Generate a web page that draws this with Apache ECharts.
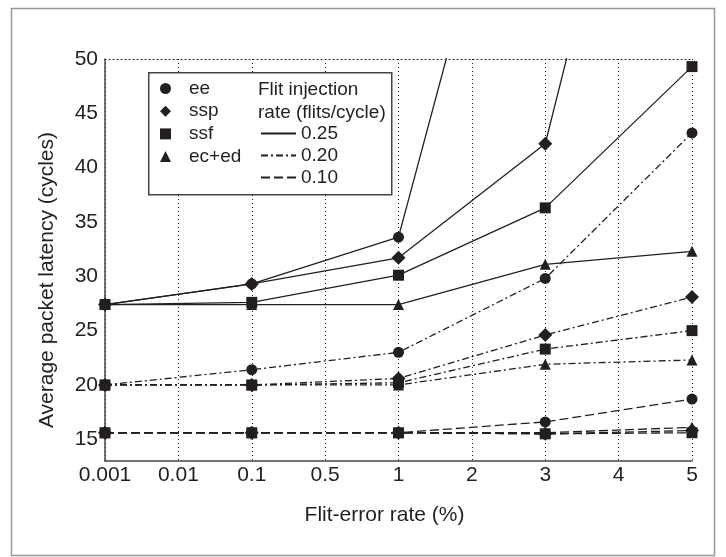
<!DOCTYPE html>
<html>
<head>
<meta charset="utf-8">
<script src="https://cdn.jsdelivr.net/npm/echarts@6/dist/echarts.min.js"></script>
<style>
  html, body { margin: 0; padding: 0; background: #fff; }
  #chart { width: 726px; height: 557px; }
</style>
</head>
<body>
<div id="chart"></div>
<script>
const errRates = ['0.001', '0.01', '0.1', '0.5', '1', '2', '3', '4', '5'];
// rates that were actually simulated
const measuredAt = ['0.001', '0.1', '1', '3', '5'];

// injection rate 0.25 (ee and ssp run off the top of the plot)
const ee25 = [27.4, 29.3, 33.6, 84];
const ssp25 = [27.4, 29.3, 31.7, 42.2, 96];
const ssf25 = [27.4, 27.6, 30.1, 36.3, 49.3];
const ec25 = [27.4, 27.4, 27.4, 31.1, 32.3];

// injection rate 0.20
const ee20 = [20.0, 21.4, 23.0, 29.8, 43.2];
const ssp20 = [20.0, 20.0, 20.6, 24.6, 28.1];
const ssf20 = [20.0, 20.0, 20.2, 23.3, 25.0];
const ec20 = [20.0, 20.0, 20.0, 21.9, 22.3];

// injection rate 0.10
const ee10 = [15.6, 15.6, 15.6, 16.6, 18.7];
const ssp10 = [15.6, 15.6, 15.6, 15.5, 15.8];
const ssf10 = [15.6, 15.6, 15.6, 15.5, 15.6];
const ec10 = [15.6, 15.6, 15.6, 15.6, 16.1];

const schemes = ['ee', 'ssp', 'ssf', 'ec+ed'];
const injRates = ['0.25', '0.20', '0.10'];
const yTicks = [15, 20, 25, 30, 35, 40, 45, 50];

const ink = '#231f20';
const font = '"Liberation Sans", Arial, Helvetica, sans-serif';
const dashes = { '0.25': 'solid', '0.20': [7, 3, 2, 3], '0.10': [9, 4] };
const marks = {
  'ee': ['circle', 11],
  'ssp': ['diamond', 14],
  'ssf': ['rect', 11],
  'ec+ed': ['triangle', 11]
};

const chart = echarts.init(document.getElementById('chart'));

function mk(scheme, rate, vals) {
  return {
    name: scheme + ' ' + rate,
    type: 'line',
    data: vals.map((v, i) => [measuredAt[i], v]),
    symbol: marks[scheme][0],
    symbolSize: marks[scheme][1],
    color: ink,
    lineStyle: { color: ink, width: 1.3, type: dashes[rate] },
    itemStyle: { color: ink },
    animation: false
  };
}

let series = [
  mk('ee', '0.25', ee25), mk('ssp', '0.25', ssp25), mk('ssf', '0.25', ssf25), mk('ec+ed', '0.25', ec25),
  mk('ee', '0.20', ee20), mk('ssp', '0.20', ssp20), mk('ssf', '0.20', ssf20), mk('ec+ed', '0.20', ec20),
  mk('ee', '0.10', ee10), mk('ssp', '0.10', ssp10), mk('ssf', '0.10', ssf10), mk('ec+ed', '0.10', ec10)
];

// empty series only there to feed the two legends
schemes.forEach(s => series.push({
  name: s, type: 'line', data: [], symbol: marks[s][0], color: ink,
  lineStyle: { width: 0 }
}));
injRates.forEach(r => series.push({
  name: r, type: 'line', data: [], symbol: 'none', color: ink,
  lineStyle: { color: ink, width: 1.3, type: dashes[r] }
}));

let option = {
  backgroundColor: '#fff',
  animation: false,
  textStyle: { fontFamily: font },
  grid: { left: 105, right: 34, top: 59, bottom: 96 },
  legend: [
    {
      data: schemes.map(s => ({ name: s, icon: marks[s][0] })),
      orient: 'vertical',
      left: 155, top: 74,
      itemWidth: 11, itemHeight: 11, itemGap: 3.7,
      selectedMode: false,
      textStyle: { fontSize: 19, color: ink, fontFamily: font, padding: [0, 0, 0, 13] }
    },
    {
      data: injRates,
      orient: 'vertical',
      left: 255, top: 119,
      itemWidth: 35, itemHeight: 14, itemGap: 3,
      selectedMode: false,
      itemStyle: { opacity: 0 },
      textStyle: { fontSize: 19, color: ink, fontFamily: font }
    }
  ],
  graphic: [
    {
      type: 'rect', left: 9, top: 6, z: -1, silent: true,
      shape: { width: 703, height: 547 },
      style: { fill: 'none', stroke: '#999', lineWidth: 1.5 }
    },
    {
      type: 'rect', left: 148, top: 72, z: 3, silent: true,
      shape: { width: 243, height: 122 },
      style: { fill: '#fff', stroke: '#444', lineWidth: 1.5 }
    },
    {
      type: 'text', left: 258, top: 78, z: 4, silent: true,
      style: {
        text: 'Flit injection\nrate (flits/cycle)', fill: ink,
        font: '19px ' + font, lineHeight: 23
      }
    }
  ],
  xAxis: [
    {
      type: 'category',
      data: errRates,
      boundaryGap: false,
      name: 'Flit-error rate (%)',
      nameLocation: 'middle',
      nameGap: 44,
      nameTextStyle: { fontSize: 21, color: ink, padding: [0, 28, 0, 0] },
      axisLine: { lineStyle: { color: '#444', width: 1.5 } },
      axisTick: { show: false },
      axisLabel: { fontSize: 21, color: ink, margin: 4 },
      splitLine: { show: true, lineStyle: { color: ink, width: 1, type: [1, 3] } }
    },
    {
      type: 'category',
      data: errRates,
      boundaryGap: false,
      position: 'top',
      axisLine: { lineStyle: { color: ink, width: 1, type: [1, 3] } },
      axisTick: { show: false },
      axisLabel: { show: false },
      splitLine: { show: false }
    }
  ],
  yAxis: {
    type: 'value',
    min: 13,
    max: 50,
    interval: 1,
    name: 'Average packet latency (cycles)',
    nameLocation: 'middle',
    nameGap: 47,
    nameTextStyle: { fontSize: 21, color: ink, padding: [0, 40, 0, 0] },
    axisLine: { show: true, lineStyle: { color: '#444', width: 1.5 } },
    axisTick: { show: false },
    axisLabel: {
      fontSize: 21, color: ink, margin: 7,
      formatter: v => (yTicks.indexOf(v) >= 0 ? String(v) : '')
    },
    splitLine: { show: false }
  },
  series: series
};

chart.setOption(option);
</script>
</body>
</html>
